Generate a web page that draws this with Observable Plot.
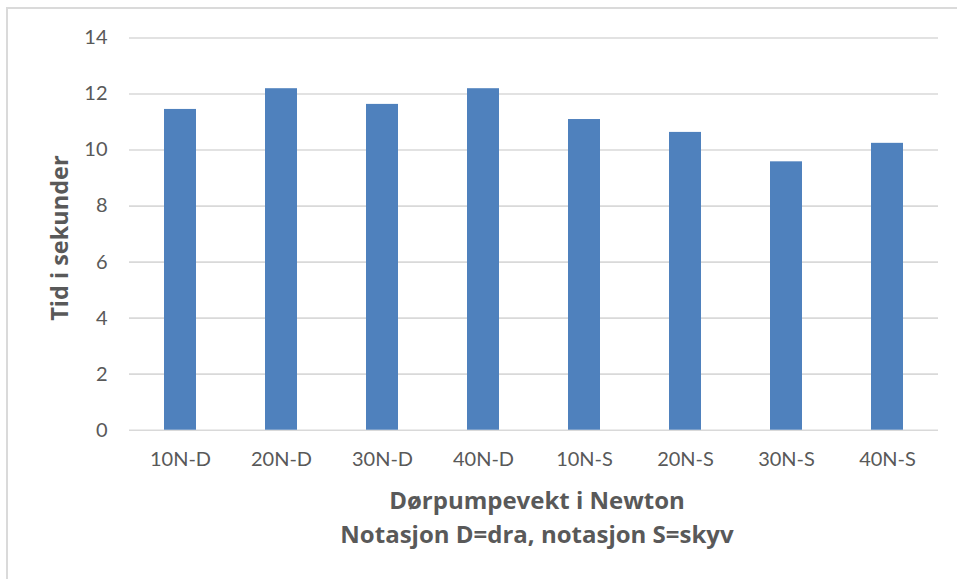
<!DOCTYPE html>
<html>
<head>
<meta charset="utf-8">
<script src="https://cdn.jsdelivr.net/npm/d3@7"></script>
<script src="https://cdn.jsdelivr.net/npm/@observablehq/plot@0.6"></script>
<style>
  html, body { margin: 0; padding: 0; background: #fff; }
  #wrap { position: relative; width: 957px; height: 579px; overflow: hidden; }
  #frame { position: absolute; left: 6px; top: 7px; width: 1000px; height: 700px;
           border-left: 2px solid #dadada; border-top: 2px solid #dadada; }
  #chart { position: absolute; left: 0; top: 0; }
</style>
</head>
<body>
<div id="wrap"><div id="frame"></div><div id="chart"></div></div>
<script>
const categories = ["10N-D", "20N-D", "30N-D", "40N-D", "10N-S", "20N-S", "30N-S", "40N-S"];
const values = [11.45, 12.19, 11.63, 12.19, 11.09, 10.63, 9.58, 10.24];
const yTicks = [0, 2, 4, 6, 8, 10, 12, 14];
const yTitle = "Tid i sekunder";
const xTitle = "Dørpumpevekt i Newton\nNotasjon D=dra, notasjon S=skyv";

const data = categories.map((c, i) => ({cat: c, val: values[i]}));

const chart = Plot.plot({
  width: 957,
  height: 579,
  marginLeft: 129,
  marginRight: 19,
  marginTop: 37.5,
  marginBottom: 149.3,
  style: {fontFamily: "Lato, 'Open Sans', sans-serif", background: "transparent", color: "#595959"},
  x: {domain: categories, paddingInner: 0.68, paddingOuter: 0.34, label: null},
  y: {domain: [0, 14], label: null},
  marks: [
    Plot.ruleY(yTicks, {stroke: "#d9d9d9", strokeWidth: 1.6}),
    Plot.barY(data, {x: "cat", y: "val", fill: "#4f81bd"}),
    Plot.axisY({ticks: yTicks, tickSize: 0, tickPadding: 22, fontSize: 20, fill: "#595959", label: null}),
    Plot.axisX({tickSize: 0, tickPadding: 22, fontSize: 20, fill: "#595959", label: null}),
    Plot.text([yTitle], {frameAnchor: "left", text: d => d, rotate: -90, dx: -69, dy: 4,
      textAnchor: "middle", lineAnchor: "middle",
      fontFamily: "'Open Sans', Lato, sans-serif", fontSize: 23.5, fontWeight: "bold", fill: "#595959"}),
    Plot.text([xTitle], {frameAnchor: "bottom", text: d => d, lineAnchor: "top", textAnchor: "middle", dy: 55, dx: 3,
      lineHeight: 1.4, fontFamily: "'Open Sans', Lato, sans-serif", fontSize: 24, fontWeight: "bold", fill: "#595959"})
  ]
});
document.getElementById("chart").appendChild(chart);
</script>
</body>
</html>
